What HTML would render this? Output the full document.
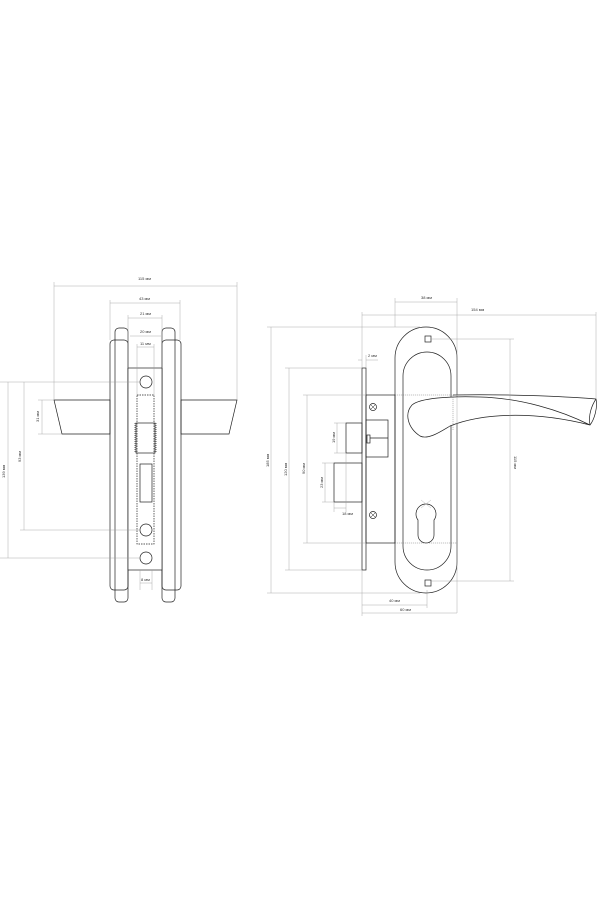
<!DOCTYPE html>
<html><head><meta charset="utf-8"><style>
html,body{margin:0;padding:0;background:#fff;}
svg{display:block}
text{font-family:"Liberation Sans",sans-serif;font-size:4px;fill:#333}
</style></head><body>
<svg width="600" height="900" viewBox="0 0 600 900" xmlns="http://www.w3.org/2000/svg">
<g fill="none" stroke="#222" stroke-width="0.7">
<polygon points="54,400 110,400 110,434 62,434"/>
<polygon points="181,400 237,400 229,434 181,434"/>
<rect x="110" y="340" width="18" height="250" rx="4"/>
<rect x="115" y="328" width="13" height="274" rx="4"/>
<rect x="162" y="340" width="19" height="250" rx="4"/>
<rect x="162" y="328" width="13" height="274" rx="4"/>
<rect x="128" y="368" width="34" height="202" fill="#fff"/>
<rect x="137" y="395" width="17" height="149" stroke-dasharray="1.5,1"/>
<circle cx="146" cy="382" r="6"/>
<circle cx="146" cy="530" r="6"/>
<circle cx="146" cy="558" r="6"/>
<rect x="136" y="423" width="19" height="30"/>
<line x1="135" y1="423" x2="135" y2="453" stroke-dasharray="1,1"/>
<line x1="156" y1="423" x2="156" y2="453" stroke-dasharray="1,1"/>
<rect x="140" y="464" width="12" height="38"/>
</g>
<g fill="none" stroke="#999" stroke-width="0.4">
<line x1="54" y1="286" x2="237" y2="286"/><line x1="54" y1="282" x2="54" y2="400"/><line x1="237" y1="282" x2="237" y2="400"/>
<line x1="110" y1="303" x2="180" y2="303"/><line x1="110" y1="300" x2="110" y2="340"/><line x1="180" y1="300" x2="180" y2="340"/>
<line x1="128" y1="318" x2="162" y2="318"/><line x1="128" y1="315" x2="128" y2="368"/><line x1="162" y1="315" x2="162" y2="368"/>
<line x1="130" y1="336" x2="161" y2="336"/>
<line x1="137" y1="347" x2="154" y2="347"/><line x1="137" y1="344" x2="137" y2="395"/><line x1="154" y1="344" x2="154" y2="395"/>
<line x1="0" y1="382" x2="140" y2="382"/><line x1="0" y1="558" x2="140" y2="558"/><line x1="20" y1="530" x2="140" y2="530"/>
<line x1="8" y1="382" x2="8" y2="558"/><line x1="24" y1="382" x2="24" y2="530"/><line x1="42" y1="400" x2="42" y2="434"/>
<line x1="38" y1="400" x2="54" y2="400"/><line x1="38" y1="434" x2="62" y2="434"/>
<line x1="140" y1="570" x2="140" y2="590"/><line x1="152" y1="570" x2="152" y2="590"/><line x1="140" y1="583" x2="152" y2="583"/>
</g>
<text x="138" y="280" font-size="4.5">115 мм</text>
<text x="139" y="300">43 мм</text>
<text x="140" y="315">21 мм</text>
<text x="140" y="333">20 мм</text>
<text x="140" y="345">11 мм</text>
<text x="141" y="581">8 мм</text>
<text transform="translate(5,478) rotate(-90)">139 мм</text>
<text transform="translate(21,462) rotate(-90)">93 мм</text>
<text transform="translate(39,422) rotate(-90)">31 мм</text>

<g fill="none" stroke="#222" stroke-width="0.7">
<rect x="395" y="327" width="62" height="266" rx="31"/>
<rect x="403" y="352" width="48" height="218" rx="24"/>
<rect x="425" y="336" width="6" height="6"/>
<rect x="425" y="580" width="6" height="6"/>
<rect x="362" y="368" width="4" height="202"/>
<rect x="366" y="395" width="29" height="148"/>
<circle cx="373" cy="407" r="3.5"/><circle cx="373" cy="515" r="3.5"/>
<path d="M371 405 l4 4 M375 405 l-4 4 M371 513 l4 4 M375 513 l-4 4" stroke-width="0.5"/>
<rect x="346" y="423" width="16" height="30"/>
<rect x="366" y="420" width="22" height="37"/>
<rect x="367" y="435" width="3" height="8"/>
<line x1="370" y1="438" x2="388" y2="438"/>
<rect x="334" y="463" width="28" height="39"/>
<path d="M418,520 A10,10 0 1 1 434,520 L434,535 A5,5 0 0 1 418,535 Z"/>
<path d="M421,500 l10,8 M431,500 l-10,8" stroke="#aaa" stroke-width="0.4"/>
<path d="M453,395 C500,394 560,396 596,399 C598,408 594,420 590,425 C560,410 520,398 480,397 C450,396 420,398 412,405 C404,414 408,428 420,436 C428,440 440,432 450,426 C480,414 530,410 590,425" fill="#fff"/>
<path d="M596,399 C592,405 588,415 590,425"/>
</g>
<g fill="none" stroke="#999" stroke-width="0.4">
<line x1="395" y1="302" x2="457" y2="302"/><line x1="395" y1="298" x2="395" y2="327"/><line x1="457" y1="298" x2="457" y2="613"/>
<line x1="362" y1="315" x2="596" y2="315"/><line x1="362" y1="312" x2="362" y2="368"/><line x1="596" y1="312" x2="596" y2="399"/>
<line x1="267" y1="327" x2="420" y2="327"/><line x1="267" y1="593" x2="420" y2="593"/><line x1="271" y1="327" x2="271" y2="593"/>
<line x1="285" y1="368" x2="362" y2="368"/><line x1="285" y1="570" x2="362" y2="570"/><line x1="289" y1="368" x2="289" y2="570"/>
<line x1="303" y1="395" x2="366" y2="395"/><line x1="303" y1="543" x2="366" y2="543"/><line x1="307" y1="395" x2="307" y2="543"/>
<line x1="334" y1="423" x2="346" y2="423"/><line x1="334" y1="453" x2="346" y2="453"/><line x1="337" y1="423" x2="337" y2="453"/>
<line x1="322" y1="463" x2="334" y2="463"/><line x1="322" y1="502" x2="334" y2="502"/><line x1="325" y1="463" x2="325" y2="502"/>
<line x1="334" y1="502" x2="334" y2="512"/><line x1="334" y1="508" x2="346" y2="508"/><line x1="346" y1="453" x2="346" y2="512"/>
<line x1="358" y1="360" x2="362" y2="360"/><line x1="366" y1="360" x2="378" y2="360"/><line x1="366" y1="355" x2="366" y2="368"/>
<line x1="431" y1="339" x2="514" y2="339"/><line x1="431" y1="581" x2="514" y2="581"/><line x1="510" y1="339" x2="510" y2="581"/>
<line x1="362" y1="570" x2="362" y2="616"/><line x1="427" y1="590" x2="427" y2="608"/>
<line x1="362" y1="605" x2="427" y2="605"/><line x1="362" y1="613" x2="457" y2="613"/>
</g>
<g fill="none" stroke="#666" stroke-width="0.4" stroke-dasharray="1.2,0.8">
<line x1="395" y1="395" x2="457" y2="395"/><line x1="395" y1="543" x2="457" y2="543"/>
<line x1="453" y1="395" x2="453" y2="430"/>
</g>
<text x="421" y="299">38 мм</text>
<text x="471" y="311">154 мм</text>
<text x="368" y="357">2 мм</text>
<text x="342" y="515">18 мм</text>
<text x="389" y="602">40 мм</text>
<text x="400" y="611">60 мм</text>
<text transform="translate(269,467) rotate(-90)">185 мм</text>
<text transform="translate(287,476) rotate(-90)">120 мм</text>
<text transform="translate(305,474) rotate(-90)">90 мм</text>
<text transform="translate(335,443) rotate(-90)">19 мм</text>
<text transform="translate(323,488) rotate(-90)">23 мм</text>
<text transform="translate(514,456) rotate(90)">115 мм</text>
</svg>
</body></html>
